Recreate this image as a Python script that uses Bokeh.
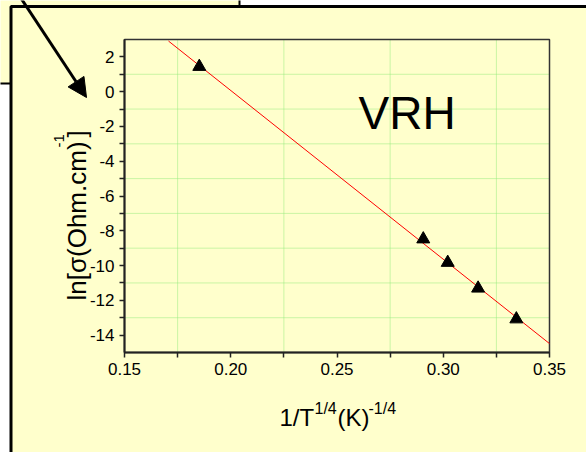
import numpy as np
from bokeh.plotting import figure
from bokeh.models import (Range1d, FixedTicker, BoxAnnotation, Label, Arrow,
                          NormalHead)
from bokeh.embed import file_html
from bokeh.resources import INLINE

# Measured conductivity data (variable range hopping)
inv_t_quarter = [0.1852, 0.2906, 0.3021, 0.3164, 0.3344]   # 1/T^(1/4), K^(-1/4)
ln_sigma = [1.44, -8.48, -9.83, -11.31, -13.08]             # ln[sigma (Ohm.cm)^-1]

# Extent of the linear fit line
fit_x_start = 0.1707
fit_x_end = 0.35

# Axis ticks
x_major = [0.15, 0.20, 0.25, 0.30, 0.35]
x_minor = [0.175, 0.225, 0.275, 0.325]
x_tick_labels = ["0.15", "0.20", "0.25", "0.30", "0.35"]
y_major = [-14, -12, -10, -8, -6, -4, -2, 0, 2]
y_minor = [-13, -11, -9, -7, -5, -3, -1, 1]
y_tick_labels = ["-14", "-12", "-10", "-8", "-6", "-4", "-2", "0", "2"]

X0, X1 = 0.15, 0.35
Y0, Y1 = -15, 3

W, H = 586, 452
FL, FR, FT, FB = 124, 549, 39, 352   # plot area edges in page pixels

YELLOW = "#FFFFCC"
GRID = "#94ea7c"
FONT = "Liberation Sans"


def dx(px):
    return X0 + (px - FL) / (FR - FL) * (X1 - X0)


def dy(py):
    return Y1 - (py - FT) / (FB - FT) * (Y1 - Y0)


# The frame spans the whole page; the axes sit at fixed data locations
p = figure(width=W, height=H, output_backend="svg", toolbar_location=None,
           x_range=Range1d(dx(0), dx(W)), y_range=Range1d(dy(H), dy(0)),
           min_border=0)
p.background_fill_color = "white"
p.border_fill_color = "white"
p.outline_line_color = None
p.grid.visible = False

# Slide boxes behind the chart
p.add_layout(BoxAnnotation(left=dx(-30), right=dx(239), top=dy(-30), bottom=dy(83),
                           fill_color=YELLOW, fill_alpha=1, line_color="black",
                           line_alpha=1, line_width=2, level="image"))
p.add_layout(BoxAnnotation(left=dx(10.5), right=dx(640), top=dy(6), bottom=dy(500),
                           fill_color=YELLOW, fill_alpha=1, line_color="black",
                           line_alpha=1, line_width=3, level="image"))

# Dotted grid on the minor ticks, inside the plot area
p.segment(x0=x_minor, y0=[Y0] * len(x_minor), x1=x_minor, y1=[Y1] * len(x_minor),
          line_color=GRID, line_dash="1 1", line_width=1, level="underlay")
p.segment(x0=[X0] * len(y_minor), y0=y_minor, x1=[X1] * len(y_minor), y1=y_minor,
          line_color=GRID, line_dash="1 1", line_width=1, level="underlay")

# Plot area outline
p.add_layout(BoxAnnotation(left=X0, right=X1, bottom=Y0, top=Y1,
                           fill_alpha=0, line_color="#333333", line_alpha=1,
                           line_width=1.5, level="underlay"))

# Axes
p.xaxis.ticker = FixedTicker(ticks=x_major, minor_ticks=x_minor)
p.xaxis.major_label_overrides = {t: s for t, s in zip(x_major, x_tick_labels)}
p.xaxis.fixed_location = Y0
p.xaxis.bounds = (X0, X1)
p.yaxis.ticker = FixedTicker(ticks=y_major, minor_ticks=y_minor)
p.yaxis.major_label_overrides = {t: s for t, s in zip(y_major, y_tick_labels)}
p.yaxis.fixed_location = X0
p.yaxis.bounds = (Y0, Y1)
for ax in (p.xaxis, p.yaxis):
    ax.axis_line_color = "#222222"
    ax.axis_line_width = 2
    ax.major_tick_line_color = "#222222"
    ax.minor_tick_line_color = "#222222"
    ax.major_tick_line_width = 1.5
    ax.minor_tick_line_width = 1.5
    ax.major_tick_in = 0
    ax.major_tick_out = 5
    ax.minor_tick_in = 0
    ax.minor_tick_out = 5
    ax.major_label_text_font = FONT
    ax.major_label_text_font_size = "17px"
    ax.major_label_text_color = "black"
    ax.major_label_standoff = 5
    ax.axis_label = None

# Linear fit
slope, intercept = np.polyfit(inv_t_quarter, ln_sigma, 1)
fit_x = [fit_x_start, fit_x_end]
fit_y = [slope * x + intercept for x in fit_x]
p.line(fit_x, fit_y, line_color="red", line_width=1)

p.scatter(inv_t_quarter, ln_sigma, marker="triangle", size=13,
          fill_color="black", line_color="black")

# In-plot annotation
p.add_layout(Label(x=dx(358), y=dy(112), text="VRH", text_font=FONT,
                   text_font_size="46px", text_color="black",
                   text_align="left", text_baseline="alphabetic"))

# X axis title with superscripts
x_title = [("1/T", 279, 417, "24px"), ("1/4", 314, 408, "16px"),
           ("(K)", 337, 417, "24px"), ("-1/4", 368, 408, "16px")]
for txt, px, py, fs in x_title:
    p.add_layout(Label(x=dx(px), y=dy(py), text=txt, text_font=FONT,
                       text_font_size=fs, text_color="black",
                       text_align="left", text_baseline="alphabetic"))

# Y axis title, rotated, with superscript
y_title = [("ln[σ(Ohm.cm)", 76, 300, "26px"), ("-1", 58, 147, "15px"),
           ("]", 76, 137, "26px")]
for txt, px, py, fs in y_title:
    p.add_layout(Label(x=dx(px), y=dy(py), text=txt, text_font=FONT,
                       text_font_size=fs, text_color="black", angle=np.pi / 2,
                       text_align="left", text_baseline="alphabetic"))

# Pointer arrow
p.add_layout(Arrow(x_start=dx(20), y_start=dy(-3), x_end=dx(86), y_end=dy(97),
                   line_color="black", line_width=3,
                   end=NormalHead(size=19, fill_color="black", line_color="black")))

open("out.html", "w").write(file_html(p, INLINE))
